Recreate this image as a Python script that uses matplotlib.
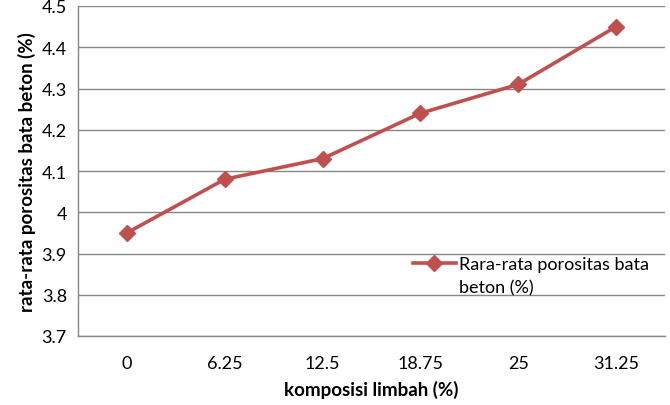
import matplotlib.pyplot as plt
import numpy as np

# data
komposisi = ["0", "6.25", "12.5", "18.75", "25", "31.25"]
porositas = [3.95, 4.08, 4.13, 4.24, 4.31, 4.45]
y_ticks = [3.7, 3.8, 3.9, 4.0, 4.1, 4.2, 4.3, 4.4, 4.5]
y_labels = ["3.7", "3.8", "3.9", "4", "4.1", "4.2", "4.3", "4.4", "4.5"]
legend_line1 = "Rara-rata porositas bata"
legend_line2 = "beton (%)"

plt.rcParams['font.family'] = ['Lato', 'DejaVu Sans']

fig = plt.figure(figsize=(6.7, 4.06), dpi=100)
ax = fig.add_axes([78 / 670, 1 - 337 / 406, (665 - 78) / 670, (337 - 7) / 406])

x = np.arange(len(komposisi))
ax.plot(x, porositas, color="#C0504D", linewidth=2.6, marker="D", markersize=8,
        label=legend_line1)

ax.set_xlim(-0.5, len(komposisi) - 0.5)
ax.set_ylim(3.7, 4.5)
ax.set_xticks(x)
ax.set_xticklabels(komposisi)
ax.set_yticks(y_ticks)
ax.set_yticklabels(y_labels)
ax.tick_params(length=0, labelsize=13, colors="#000000")
ax.tick_params(axis="x", pad=14)
ax.tick_params(axis="y", pad=8)

ax.grid(axis="y", color="#868686", linewidth=1)
ax.set_axisbelow(True)
for s in ["top", "right"]:
    ax.spines[s].set_visible(False)
for s in ["left", "bottom"]:
    ax.spines[s].set_color("#868686")
    ax.spines[s].set_linewidth(1)

ax.set_xlabel("komposisi limbah (%)", fontsize=13.5, fontweight="bold", labelpad=6)
ax.set_ylabel("rata-rata porositas bata beton (%)", fontsize=13.5, fontweight="bold", labelpad=4)

leg = ax.legend(loc="upper left", bbox_to_anchor=(0.57, 0.241), frameon=False, fontsize=13,
                handlelength=2.4, handletextpad=0.15, borderpad=0, borderaxespad=0)

# second legend line, placed under the first one
fig.canvas.draw()
bb = leg.get_texts()[0].get_window_extent()
fig.text(bb.x0 / fig.bbox.width, (bb.y0 - 23) / fig.bbox.height, legend_line2,
         fontsize=13, ha="left", va="bottom")

fig.savefig("out.png", dpi=100)
